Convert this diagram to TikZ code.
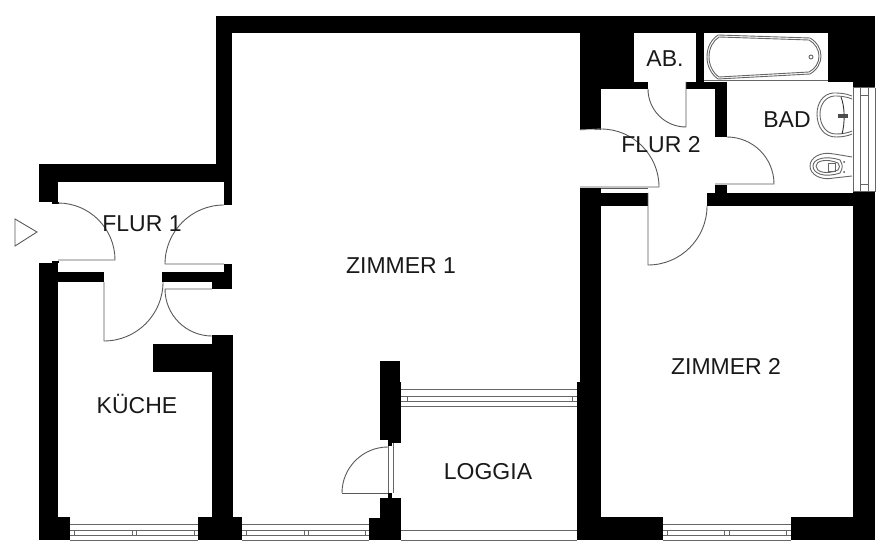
\documentclass[tikz,border=0pt]{standalone}
\usepackage{fontspec}
\setmainfont{Liberation Sans}
\tikzset{
  wall/.style={fill=black},
  thinline/.style={draw=black!60, line width=1pt},
  doorline/.style={draw=black!65, line width=0.9pt},
  fixture/.style={draw=black!60, line width=0.9pt},
  roomlabel/.style={font=\fontsize{23}{26}\selectfont, text=black!90, inner sep=0pt}
}
\begin{document}
\begin{tikzpicture}[x=1pt,y=-1pt]
            \useasboundingbox (0,0) rectangle (891,556);

            % Outer walls
            \fill[wall] (216,16) rectangle (875,33);
            \fill[wall] (216,16) rectangle (232,182);
            \fill[wall] (39,164) rectangle (232,182);
            \fill[wall] (39,164) rectangle (58,202);
            \fill[wall] (52,202) rectangle (59,204);
            \fill[wall] (39,263) rectangle (58,540);
            \fill[wall] (52,261) rectangle (59,263);
            \fill[wall] (853,33) rectangle (875,88);
            \fill[wall] (853,192) rectangle (875,540);
            \fill[wall] (39,517) rectangle (70,540);
            \fill[wall] (198,517) rectangle (242,540);
            \fill[wall] (600,517) rectangle (663,540);
            \fill[wall] (791,517) rectangle (875,540);

            % Walls around Flur 1 and Kueche
            \fill[wall] (224,182) rectangle (232,205);
            \fill[wall] (224,264) rectangle (232,272);
            \fill[wall] (58,272) rectangle (104,282);
            \fill[wall] (162,272) rectangle (232,282);
            \fill[wall] (212,272) rectangle (232,289);
            \fill[wall] (212,335) rectangle (233,517);
            \fill[wall] (153,344) rectangle (233,372);

            % Walls around Loggia
            \fill[wall] (380,361) rectangle (400,440);
            \fill[wall] (400,382) rectangle (401,443);
            \fill[wall] (388,440) rectangle (400,443);
            \fill[wall] (388,443) rectangle (392,446);
            \fill[wall] (388,493) rectangle (392,498);
            \fill[wall] (380,498) rectangle (401,540);
            \fill[wall] (369,518) rectangle (401,540);

            % Walls around Flur 2, Bad and Zimmer 2
            \fill[wall] (580,33) rectangle (601,130);
            \fill[wall] (601,33) rectangle (634,89);
            \fill[wall] (634,82) rectangle (648,89);
            \fill[wall] (686,82) rectangle (727,89);
            \fill[wall] (696,33) rectangle (704,82);
            \fill[wall] (828,33) rectangle (853,82);
            \fill[wall] (715,89) rectangle (727,137);
            \fill[wall] (715,185) rectangle (727,193);
            \fill[wall] (580,188) rectangle (601,517);
            \fill[wall] (577,382) rectangle (600,540);
            \fill[wall] (601,193) rectangle (648,206);
            \fill[wall] (707,193) rectangle (853,206);

            % Entrance mark
            \draw[doorline] (15,219) -- (37,232) -- (15,246) -- cycle;

            % Doors
            \draw[doorline] (58,260) -- (115,260) arc (0:-90:57);
            \draw[doorline] (224,264) -- (165,264) arc (180:270:59);
            \draw[doorline] (104,282) -- (104,341) arc (90:0:59);
            \draw[doorline] (212,289) -- (165,289) arc (180:90:47);
            \draw[doorline] (342,493) -- (388,493);
            \draw[doorline] (342,493) arc (180:270:46);
            \draw[doorline] (686,82) -- (686,127) arc (90:180:38);
            \draw[doorline] (601,129) arc (-90:0:58) -- (580,187);
            \draw[doorline, black!30] (580,130) -- (601,129);
            \draw[doorline] (601,188) -- (648,188);
            \draw[doorline] (648,193) -- (648,265) arc (90:0:59);
            \draw[doorline] (727,137) arc (-90:0:47) -- (715,184);

            % Windows
            \draw[thinline] (70,524) -- (198,524);
            \draw[thinline] (70,530) -- (198,530);
            \draw[thinline] (70,535) -- (198,535);
            \draw[thinline] (70,540) -- (198,540);
            \draw[thinline] (74,530) -- (74,535);
            \draw[thinline] (132,530) -- (132,535);
            \draw[thinline] (136,530) -- (136,535);
            \draw[thinline] (194,530) -- (194,535);

            \draw[thinline] (242,524) -- (369,524);
            \draw[thinline] (242,530) -- (369,530);
            \draw[thinline] (242,535) -- (369,535);
            \draw[thinline] (242,540) -- (369,540);
            \draw[thinline] (246,530) -- (246,535);
            \draw[thinline] (304,530) -- (304,535);
            \draw[thinline] (308,530) -- (308,535);
            \draw[thinline] (365,530) -- (365,535);

            \draw[thinline] (663,524) -- (791,524);
            \draw[thinline] (663,530) -- (791,530);
            \draw[thinline] (663,535) -- (791,535);
            \draw[thinline] (663,540) -- (791,540);
            \draw[thinline] (667,530) -- (667,535);
            \draw[thinline] (724,530) -- (724,535);
            \draw[thinline] (729,530) -- (729,535);
            \draw[thinline] (786,530) -- (786,535);

            \draw[thinline] (401,389) -- (577,389);
            \draw[thinline] (401,396) -- (577,396);
            \draw[thinline] (401,401) -- (577,401);
            \draw[thinline] (401,406) -- (577,406);
            \draw[thinline] (407,396) -- (407,401);
            \draw[thinline] (572,396) -- (572,401);

            \draw[thinline] (401,530) -- (577,530);
            \draw[thinline] (401,540) -- (577,540);

            \draw[thinline] (388,446) -- (388,493);
            \draw[thinline] (393,443) -- (393,493);

            \draw[thinline] (853,88) -- (875,88);
            \draw[thinline] (853,192) -- (875,192);
            \draw[thinline] (853,88) -- (853,192);
            \draw[thinline] (860,88) -- (860,192);
            \draw[thinline] (868,88) -- (868,192);
            \draw[thinline] (875,88) -- (875,192);
            \draw[thinline] (860,96) -- (868,96);
            \draw[thinline] (860,185) -- (868,185);

            % Bath tub
            \draw[thinline] (704,81) -- (828,81);
            \draw[fixture] (718,35) -- (810,38) .. controls (817,42) and (821,49) .. (821,56)
              .. controls (821,63) and (817,70) .. (810,74) -- (718,79)
              .. controls (711,74) and (707,66) .. (707,57) .. controls (707,47) and (711,40) .. (718,35) -- cycle;
            \draw[fixture] (719,37) -- (809,40) .. controls (815,43) and (819,50) .. (819,56)
              .. controls (819,63) and (815,69) .. (809,72) -- (719,77)
              .. controls (713,73) and (709,65) .. (709,57) .. controls (709,48) and (713,41) .. (719,37) -- cycle;
            \draw[fixture] (811,57) circle (2);

            % Wash basin
            \draw[fixture] (852,96) .. controls (845,93) and (838,93) .. (833,93)
              .. controls (823,94) and (817,103) .. (817,114)
              .. controls (817,127) and (824,137) .. (836,137) .. controls (842,137) and (848,136) .. (852,134);
            \draw[fixture] (852,99) .. controls (845,96) and (838,96) .. (834,96)
              .. controls (825,97) and (820,105) .. (820,114)
              .. controls (820,125) and (826,134) .. (836,134) .. controls (842,134) and (848,133) .. (852,131);
            \draw[black!80, line width=0.9pt] (841,97) .. controls (845,107) and (845,123) .. (842,134);
            \fill[black!70] (838,114) rectangle (848,118);

            % Toilet
            \draw[fixture] (852,157) -- (834,154) .. controls (820,151) and (810,158) .. (810,166)
              .. controls (810,174) and (820,181) .. (834,178) -- (852,176);
            \draw[fixture] (840,160) .. controls (825,155) and (813,159) .. (813,166)
              .. controls (813,174) and (825,178) .. (840,173) .. controls (843,168) and (843,165) .. (840,160) -- cycle;
            \draw[fixture] (838,163) .. controls (826,158) and (816,161) .. (816,166)
              .. controls (816,172) and (826,175) .. (838,170) .. controls (840,168) and (840,165) .. (838,163) -- cycle;
            \draw[fixture] (828,163) rectangle (835,171);
            \fill[black!70] (844,162) circle (1);
            \fill[black!70] (844,172) circle (1);

            % Room names
            \node[roomlabel] (flur1) at (142,224) {FLUR 1};
            \node[roomlabel] (zimmer1) at (401,266) {ZIMMER 1};
            \node[roomlabel] (zimmer2) at (726,366) {ZIMMER 2};
            \node[roomlabel] (kueche) at (137,404) {KÜCHE};
            \node[roomlabel] (loggia) at (488,472) {LOGGIA};
            \node[roomlabel] (ab) at (665,59) {AB.};
            \node[roomlabel] (bad) at (787,120) {BAD};
            \node[roomlabel] (flur2) at (661,145) {FLUR 2};
        \end{tikzpicture}
\end{document}
